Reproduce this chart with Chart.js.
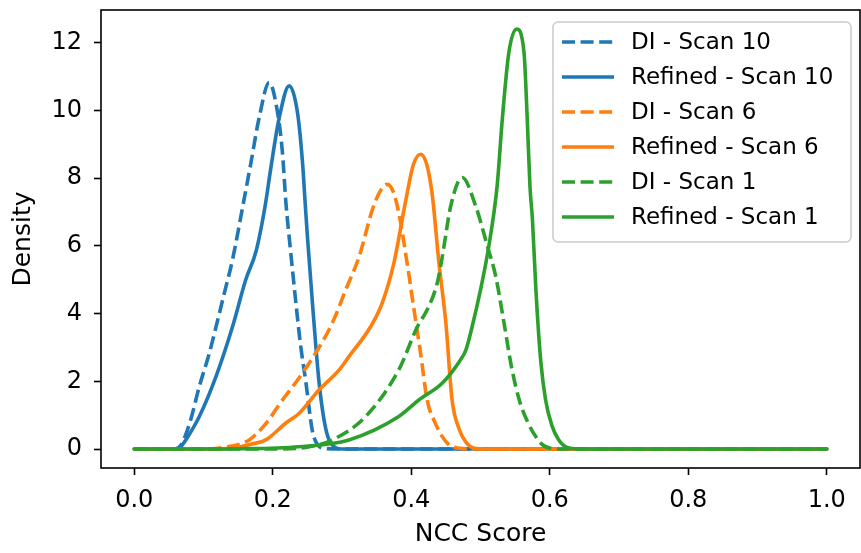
<!DOCTYPE html>
<html>
<head>
<meta charset="utf-8">
<script src="https://cdn.jsdelivr.net/npm/chart.js@4.4.1/dist/chart.umd.min.js"></script>
<style>
  html, body { margin: 0; padding: 0; background: #fff; }
</style>
</head>
<body>
<canvas id="kde" width="861" height="553"></canvas>
<script>
// densidad KDE de la puntuación NCC, DI vs refinado, por escaneo
const xDI10  = [0, 0.058, 0.066, 0.072, 0.082, 0.094, 0.108, 0.118, 0.13, 0.142, 0.157, 0.168, 0.18, 0.1948, 0.207, 0.214, 0.219, 0.226, 0.233, 0.24, 0.248, 0.257, 0.265, 0.275, 0.3, 1.0];
const yDI10  = [0, 0, 0.08, 0.3, 0.9, 1.85, 2.8, 3.6, 4.6, 5.6, 7.2, 8.4, 9.75, 10.83, 9.94, 8.76, 7.28, 5.8, 4.4, 3.1, 1.95, 0.56, 0.12, 0.02, 0, 0];

const xRef10 = [0, 0.058, 0.067, 0.08, 0.094, 0.118, 0.142, 0.161, 0.176, 0.189, 0.197, 0.209, 0.2237, 0.2357, 0.243, 0.2468, 0.25, 0.257, 0.267, 0.277, 0.29, 0.3, 1.0];
const yRef10 = [0, 0, 0.07, 0.45, 0.96, 2.14, 3.62, 5.0, 5.85, 7.18, 8.27, 9.75, 10.73, 9.94, 8.46, 7.28, 6.3, 4.4, 1.95, 0.56, 0.05, 0, 0];

const xDI6   = [0, 0.1, 0.13, 0.166, 0.19, 0.214, 0.238, 0.262, 0.286, 0.3055, 0.325, 0.344, 0.356, 0.3656, 0.374, 0.382, 0.394, 0.404, 0.413, 0.423, 0.435, 0.445, 0.455, 0.47, 0.49, 1.0];
const yDI6   = [0, 0, 0.05, 0.27, 0.75, 1.45, 2.1, 2.84, 3.72, 4.71, 5.7, 7.08, 7.65, 7.82, 7.6, 6.98, 5.5, 4.12, 2.9, 1.45, 0.75, 0.36, 0.12, 0.02, 0, 0];

const xRef6  = [0, 0.11, 0.14, 0.17, 0.19, 0.219, 0.238, 0.267, 0.296, 0.31, 0.3415, 0.358, 0.375, 0.3915, 0.403, 0.4137, 0.423, 0.4305, 0.44, 0.45, 0.459, 0.469, 0.479, 0.49, 0.51, 1.0];
const yRef6  = [0, 0, 0.02, 0.15, 0.27, 0.77, 1.05, 1.75, 2.34, 2.73, 3.62, 4.31, 5.5, 7.28, 8.4, 8.71, 8.36, 7.48, 5.5, 3.72, 1.45, 0.6, 0.2, 0.03, 0, 0];

const xDI1   = [0, 0.2, 0.248, 0.286, 0.334, 0.382, 0.409, 0.4232, 0.4376, 0.445, 0.457, 0.4737, 0.493, 0.51, 0.522, 0.534, 0.545, 0.556, 0.568, 0.58, 0.59, 0.60, 0.62, 1.0];
const yDI1   = [0, 0, 0.05, 0.27, 0.96, 2.34, 3.62, 4.12, 4.91, 5.7, 7.18, 8.02, 7.18, 5.99, 5.1, 3.72, 2.4, 1.45, 0.8, 0.36, 0.12, 0.03, 0, 0];

const xRef1  = [0, 0.05, 0.15, 0.238, 0.31, 0.382, 0.411, 0.445, 0.47, 0.479, 0.488, 0.5, 0.512, 0.524, 0.5315, 0.541, 0.5522, 0.5628, 0.5675, 0.5714, 0.575, 0.58, 0.587, 0.594, 0.603, 0.613, 0.628, 0.65, 1.0];
const yRef1  = [0, 0, 0.01, 0.07, 0.27, 0.96, 1.45, 1.95, 2.6, 2.93, 3.62, 4.7, 5.99, 7.77, 9.75, 11.72, 12.41, 11.72, 9.75, 7.77, 6.78, 4.7, 2.6, 1.45, 0.7, 0.27, 0.03, 0, 0];

const seriesNames  = ['DI - Scan 10', 'Refined - Scan 10', 'DI - Scan 6', 'Refined - Scan 6', 'DI - Scan 1', 'Refined - Scan 1'];
const seriesX      = [xDI10, xRef10, xDI6, xRef6, xDI1, xRef1];
const seriesY      = [yDI10, yRef10, yDI6, yRef6, yDI1, yRef1];
const seriesColors = ['#1f77b4', '#1f77b4', '#ff7f0e', '#ff7f0e', '#2ca02c', '#2ca02c'];
const seriesDashed = [true, false, true, false, true, false];

const xTicks = [0, 0.2, 0.4, 0.6, 0.8, 1.0];
const yTicks = [0, 2, 4, 6, 8, 10, 12];

const FONT = 'DejaVu Sans';
const LW = 3.6;
const DASH = [13, 5.6];

const datasets = seriesNames.map((name, i) => ({
    label: name,
    data: seriesX[i].map((x, k) => ({ x: x, y: seriesY[i][k] })),
    borderColor: seriesColors[i],
    borderWidth: LW,
    borderDash: seriesDashed[i] ? DASH : [],
    borderCapStyle: seriesDashed[i] ? 'butt' : 'round',
    pointRadius: 0,
    fill: false,
    cubicInterpolationMode: 'monotone',
    order: seriesNames.length - i   // el último queda encima
}));

// marco negro alrededor del área de datos
const marco = {
    id: 'marco',
    afterDraw(chart) {
        const { ctx, chartArea: a } = chart;
        ctx.save();
        ctx.strokeStyle = '#000';
        ctx.lineWidth = 1.6;
        ctx.strokeRect(a.left, a.top, a.right - a.left, a.bottom - a.top);
        ctx.restore();
    }
};

// leyenda dentro del gráfico, arriba a la derecha
const leyenda = {
    id: 'leyenda',
    afterDatasetsDraw(chart) {
        const { ctx, chartArea: a } = chart;
        ctx.save();
        ctx.font = '23px "' + FONT + '"';
        const rowH = 35, handle = 52;
        const w = 298;
        const h = 20 + rowH * (seriesNames.length - 1) + 25;
        const x0 = a.right - 9 - w, y0 = a.top + 12;

        ctx.beginPath();
        ctx.roundRect(x0, y0, w, h, 5);
        ctx.fillStyle = 'rgba(255,255,255,0.8)';
        ctx.fill();
        ctx.strokeStyle = '#cccccc';
        ctx.lineWidth = 1.6;
        ctx.stroke();

        seriesNames.forEach((name, i) => {
            const y = y0 + 20 + i * rowH;
            ctx.beginPath();
            ctx.setLineDash(seriesDashed[i] ? DASH : []);
            ctx.lineCap = 'butt';
            ctx.strokeStyle = seriesColors[i];
            ctx.lineWidth = LW;
            ctx.moveTo(x0 + 9, y);
            ctx.lineTo(x0 + 9 + handle, y);
            ctx.stroke();
            ctx.setLineDash([]);
            ctx.fillStyle = '#000';
            ctx.textBaseline = 'middle';
            ctx.textAlign = 'left';
            ctx.fillText(name, x0 + 78, y + 1);
        });
        ctx.restore();
    }
};

new Chart(document.getElementById('kde'), {
    type: 'line',
    data: { datasets: datasets },
    options: {
        responsive: false,
        animation: false,
        devicePixelRatio: 1,
        layout: { padding: { top: 10, right: 1, left: 0, bottom: 0 } },
        plugins: { legend: { display: false }, tooltip: { enabled: false } },
        scales: {
            x: {
                type: 'linear',
                min: -0.048,
                max: 1.048,
                afterBuildTicks: (s) => { s.ticks = xTicks.map(v => ({ value: v })); },
                afterFit: (s) => { s.height = 85; s.paddingLeft = 0; s.paddingRight = 0; },
                border: { display: false },
                grid: { drawOnChartArea: false, drawTicks: true, tickLength: 7, tickWidth: 1.6, tickColor: '#000' },
                ticks: {
                    color: '#000',
                    font: { family: FONT, size: 24 },
                    padding: 11,
                    maxRotation: 0,
                    callback: (v) => Number(v).toFixed(1)
                },
                title: {
                    display: true,
                    text: 'NCC Score',
                    color: '#000',
                    font: { family: FONT, size: 25 },
                    padding: { top: 0, bottom: 4 }
                }
            },
            y: {
                type: 'linear',
                min: -0.56,
                max: 12.97,
                afterBuildTicks: (s) => { s.ticks = yTicks.map(v => ({ value: v })); },
                afterFit: (s) => { s.width = 101; s.paddingTop = 0; s.paddingBottom = 0; },
                border: { display: false },
                grid: { drawOnChartArea: false, drawTicks: true, tickLength: 7, tickWidth: 1.6, tickColor: '#000' },
                ticks: {
                    color: '#000',
                    font: { family: FONT, size: 24 },
                    padding: 12,
                    callback: (v) => String(v)
                },
                title: {
                    display: true,
                    text: 'Density',
                    color: '#000',
                    font: { family: FONT, size: 25 },
                    padding: { top: 8, bottom: 0 }
                }
            }
        }
    },
    plugins: [marco, leyenda]
});
</script>
</body>
</html>
